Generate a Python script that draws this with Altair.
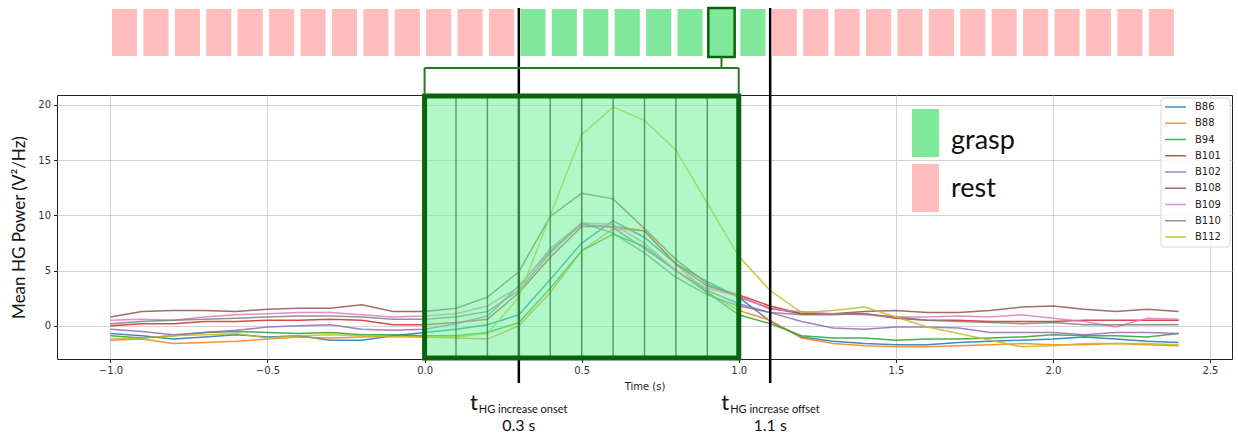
import altair as alt
import pandas as pd

# ---- data -------------------------------------------------------------
times = [-1.0, -0.9, -0.8, -0.7, -0.6, -0.5, -0.4, -0.3, -0.2, -0.1,
         0.0, 0.1, 0.2, 0.3, 0.4, 0.5, 0.6, 0.7, 0.8, 0.9,
         1.0, 1.1, 1.2, 1.3, 1.4, 1.5, 1.6, 1.7, 1.8, 1.9,
         2.0, 2.1, 2.2, 2.3, 2.4]

subjects = ["B86", "B88", "B94", "B101", "B102", "B108", "B109", "B110", "B112"]
subject_colors = ["#1f77b4", "#ff7f0e", "#2ca02c", "#d62728", "#9467bd",
                  "#8c564b", "#e377c2", "#7f7f7f", "#bcbd22"]

b86 = [-0.7, -0.9, -1.2, -1.0, -0.8, -1.0, -0.9, -1.3, -1.3, -0.9,
       -0.6, -0.3, 0.1, 1.0, 4.2, 7.5, 9.5, 8.0, 5.6, 4.0,
       2.6, 0.4, -1.0, -1.4, -1.6, -1.7, -1.7, -1.5, -1.4, -1.3,
       -1.2, -1.0, -1.2, -1.4, -1.5]
b88 = [-1.3, -1.2, -1.6, -1.5, -1.4, -1.2, -1.0, -1.1, -1.0, -0.9,
       -1.0, -1.1, -1.2, 0.0, 3.0, 6.8, 8.8, 8.6, 5.6, 3.0,
       1.4, 0.5, -1.1, -1.6, -1.8, -1.9, -1.9, -1.8, -1.7, -1.6,
       -1.7, -1.7, -1.6, -1.7, -1.8]
b94 = [-0.9, -1.1, -0.9, -0.6, -0.5, -0.6, -0.7, -0.6, -0.8, -0.8,
       -0.9, -0.9, -0.6, 0.3, 3.4, 6.8, 8.3, 7.2, 5.0, 3.0,
       1.0, 0.2, -0.9, -1.1, -1.1, -1.3, -1.2, -1.2, -1.1, -1.0,
       -0.8, -0.9, -0.9, -1.0, -0.7]
b101 = [0.0, 0.2, 0.2, 0.4, 0.4, 0.5, 0.5, 0.6, 0.5, 0.1,
        0.1, 0.3, 0.6, 3.0, 6.2, 9.0, 9.0, 8.6, 5.6, 3.6,
        2.8, 1.8, 1.1, 1.1, 1.1, 0.7, 0.5, 0.5, 0.4, 0.4,
        0.4, 0.5, 0.5, 0.5, 0.5]
b102 = [-0.3, -0.5, -0.8, -0.6, -0.4, -0.1, 0.0, 0.1, -0.3, -0.4,
        -0.3, 0.2, 0.9, 3.6, 6.8, 9.2, 8.9, 7.0, 5.0, 3.2,
        2.0, 1.2, 0.4, -0.2, -0.3, -0.1, -0.1, -0.2, -0.6, -0.6,
        -0.6, -0.8, -0.6, -0.6, -0.7]
b108 = [0.8, 1.3, 1.4, 1.4, 1.3, 1.5, 1.6, 1.6, 1.9, 1.3,
        1.3, 1.6, 2.6, 4.9, 9.9, 12.0, 11.5, 8.8, 6.0, 3.8,
        2.6, 1.6, 1.1, 1.1, 1.3, 1.4, 1.2, 1.2, 1.4, 1.7,
        1.8, 1.5, 1.3, 1.5, 1.3]
b109 = [0.5, 0.6, 0.5, 0.8, 1.0, 1.1, 1.2, 1.2, 1.0, 0.8,
        0.9, 1.1, 1.8, 3.5, 7.0, 9.3, 9.2, 7.5, 5.0, 3.4,
        2.7, 1.5, 1.3, 1.1, 1.0, 0.8, 0.8, 0.9, 0.8, 1.0,
        0.7, 0.4, -0.1, 0.7, 0.6]
b110 = [0.2, 0.4, 0.5, 0.6, 0.7, 0.8, 0.9, 0.9, 0.8, 0.6,
        0.6, 0.8, 1.3, 3.2, 6.6, 9.3, 8.4, 6.6, 4.4, 2.8,
        1.8, 1.2, 1.0, 1.0, 1.1, 0.8, 0.5, 0.4, 0.3, 0.2,
        0.3, 0.1, 0.1, 0.1, 0.1]
b112 = [-1.2, -1.1, -0.9, -0.8, -0.7, -1.1, -0.9, -0.8, -0.9, -1.0,
        -1.0, -1.0, -0.7, 2.6, 10.0, 17.3, 19.8, 18.6, 15.9, 11.1,
        6.3, 3.2, 1.2, 1.4, 1.7, 0.8, -0.1, -0.7, -1.3, -1.9,
        -1.8, -1.6, -1.6, -1.6, -1.7]

series = [b86, b88, b94, b101, b102, b108, b109, b110, b112]

# 0.1 s analysis windows shown in the strip above the axes
window_starts = [-1.0, -0.9, -0.8, -0.7, -0.6, -0.5, -0.4, -0.3, -0.2, -0.1,
                 0.0, 0.1, 0.2, 0.3, 0.4, 0.5, 0.6, 0.7, 0.8, 0.9,
                 1.0, 1.1, 1.2, 1.3, 1.4, 1.5, 1.6, 1.7, 1.8, 1.9,
                 2.0, 2.1, 2.2, 2.3]

onset = 0.3          # t HG increase onset (s)
offset = 1.1         # t HG increase offset (s)
feature_start = 0.0  # 1 s feature window
feature_end = 1.0
highlight_start = 0.9

x_ticks = [-1.0, -0.5, 0.0, 0.5, 1.0, 1.5, 2.0, 2.5]
y_ticks = [0, 5, 10, 15, 20]

# ---- tables -----------------------------------------------------------
lines_df = pd.DataFrame(
    [{"subject": s, "time": t, "power": v}
     for s, vals in zip(subjects, series) for t, v in zip(times, vals)]
)
legend_df = pd.DataFrame({"subject": subjects, "row": list(range(len(subjects)))})
windows_df = pd.DataFrame({
    "start": window_starts,
    "phase": ["grasp" if onset <= round(w, 2) < offset else "rest" for w in window_starts],
})
inner_edges_df = pd.DataFrame({
    "t": [w for w in window_starts if feature_start < w < feature_end]
})
feature_df = pd.DataFrame({"start": [feature_start], "end": [feature_end]})
highlight_df = pd.DataFrame({"start": [highlight_start]})
events_df = pd.DataFrame({
    "t": [onset, offset],
    "sub": ["HG increase onset", "HG increase offset"],
})

W, H = 1175, 264
X_TITLE = "Time (s)"
x_scale = alt.Scale(domain=[-1.17, 2.57], nice=False, zero=False)
y_scale = alt.Scale(domain=[-3.0, 20.9], nice=False, zero=False)
phase_scale = alt.Scale(domain=["grasp", "rest"], range=["#80E89A", "#FFBDBD"])
subject_scale = alt.Scale(domain=subjects, range=subject_colors)

GREEN_DARK = "#0a640f"
GREEN_MID = "#217a24"


def xq(field):
    return alt.X(field, type="quantitative", scale=x_scale, title=X_TITLE)


# ---- layers -----------------------------------------------------------
lines = alt.Chart(lines_df).mark_line(strokeWidth=1.5, opacity=0.85).encode(
    x=alt.X("time:Q", scale=x_scale, title=X_TITLE, axis=alt.Axis(
        values=x_ticks, format=".1f", grid=True,
        gridColor="#c8c8c8", gridWidth=0.8, tickSize=3.5, tickColor="#222",
        labelPadding=3, labelFont="DejaVu Sans", labelFontSize=10,
        labelColor="#333", titleFont="DejaVu Sans", titleFontSize=10,
        titleFontWeight="normal", titleColor="#222", titlePadding=6,
        domain=False)),
    y=alt.Y("power:Q", scale=y_scale, axis=alt.Axis(
        values=y_ticks, format="d", title="Mean HG Power (V²/Hz)", grid=True,
        gridColor="#c8c8c8", gridWidth=0.8, tickSize=3.5, tickColor="#222",
        labelPadding=3, labelFont="DejaVu Sans", labelFontSize=10,
        labelColor="#333", titleFont="Lato", titleFontSize=17,
        titleFontWeight="normal", titleColor="#111", titleX=-38, titleY=H / 2,
        titleBaseline="middle", titleAngle=-90, domain=False)),
    color=alt.Color("subject:N", scale=subject_scale, legend=None),
)

event_rules = alt.Chart(events_df).mark_rule(color="black", strokeWidth=2.5).encode(
    x=xq("t"), y=alt.value(-87), y2=alt.value(288)
)

feature_fill = alt.Chart(feature_df).mark_rect(color="#70F29A", opacity=0.55).encode(
    x=xq("start"), x2="end", y=alt.value(0), y2=alt.value(H)
)

inner_edges = alt.Chart(inner_edges_df).mark_rule(
    color="#2f7a3c", strokeWidth=1.4, opacity=0.75
).encode(x=xq("t"), y=alt.value(0), y2=alt.value(H))

feature_border = alt.Chart(feature_df).mark_rect(
    fillOpacity=0, stroke=GREEN_DARK, strokeWidth=5
).encode(x=xq("start"), x2="end", y=alt.value(1), y2=alt.value(H - 1))

strip = alt.Chart(windows_df).transform_calculate(
    x0="datum.start + 0.005", x1="datum.start + 0.085"
).mark_rect().encode(
    x=xq("x0:Q"), x2="x1:Q", y=alt.value(-86), y2=alt.value(-39),
    fill=alt.Fill("phase:N", scale=phase_scale, legend=None),
)

highlight = alt.Chart(highlight_df).transform_calculate(
    x0="datum.start + 0.003", x1="datum.start + 0.087"
).mark_rect(fill="#80E89A", stroke=GREEN_DARK, strokeWidth=2.5).encode(
    x=xq("x0:Q"), x2="x1:Q", y=alt.value(-87), y2=alt.value(-38)
)

stem = alt.Chart(highlight_df).transform_calculate(
    xc="datum.start + 0.045"
).mark_rule(color=GREEN_MID, strokeWidth=2).encode(
    x=xq("xc:Q"), y=alt.value(-38), y2=alt.value(-27)
)
bracket_h = alt.Chart(feature_df).mark_rule(color=GREEN_MID, strokeWidth=2).encode(
    x=xq("start"), x2="end", y=alt.value(-27)
)
bracket_l = alt.Chart(feature_df).mark_rule(color=GREEN_MID, strokeWidth=2).encode(
    x=xq("start"), y=alt.value(-27), y2=alt.value(0)
)
bracket_r = alt.Chart(feature_df).mark_rule(color=GREEN_MID, strokeWidth=2).encode(
    x=xq("end"), y=alt.value(-27), y2=alt.value(0)
)

# subject legend (upper right, inside the axes)
legend_box = alt.Chart(feature_df).mark_rect(
    fill="white", stroke="#d4d4d4", strokeWidth=1, cornerRadius=3, opacity=0.9
).encode(x=alt.value(1104), x2=alt.value(1173), y=alt.value(3), y2=alt.value(152))
legend_rows = alt.Chart(legend_df).transform_calculate(
    ry="12 + 16.25 * datum.row"
)
legend_lines = legend_rows.mark_rule(strokeWidth=1.5, opacity=0.85).encode(
    x=alt.value(1108), x2=alt.value(1129),
    y=alt.Y("ry:Q", scale=None),
    color=alt.Color("subject:N", scale=subject_scale, legend=None),
)
legend_labels = legend_rows.mark_text(
    font="DejaVu Sans", fontSize=10, color="#222", align="left", baseline="middle"
).encode(x=alt.value(1138), y=alt.Y("ry:Q", scale=None), text="subject:N")

# phase key inside the axes
key_layers = []
for i, ph in enumerate(["grasp", "rest"]):
    d = pd.DataFrame({"phase": [ph]})
    key_layers.append(
        alt.Chart(d).mark_rect().encode(
            x=alt.value(855), x2=alt.value(882),
            y=alt.value(14 + 55 * i), y2=alt.value(62 + 55 * i),
            fill=alt.Fill("phase:N", scale=phase_scale, legend=None),
        )
    )
    key_layers.append(
        alt.Chart(d).mark_text(
            font="Lato", fontSize=27, color="#111", align="left",
            baseline="alphabetic"
        ).encode(x=alt.value(894), y=alt.value(54 + 48 * i), text="phase:N")
    )

# event labels under the axis
t_main = alt.Chart(events_df).mark_text(
    text="t", font="Lato", fontSize=22, color="#111", align="right",
    baseline="alphabetic", dx=-41
).encode(x=xq("t"), y=alt.value(315))
t_sub = alt.Chart(events_df).mark_text(
    font="Lato", fontSize=11, color="#111", align="left",
    baseline="alphabetic", dx=-40
).encode(x=xq("t"), y=alt.value(318), text="sub:N")
t_val = alt.Chart(events_df).transform_calculate(
    label="format(datum.t, '.1f') + ' s'"
).mark_text(
    font="Lato", fontSize=16, color="#111", align="center", baseline="alphabetic"
).encode(x=xq("t"), y=alt.value(336), text="label:N")

chart = alt.layer(
    lines, event_rules, feature_fill, inner_edges, feature_border,
    strip, highlight, stem, bracket_h, bracket_l, bracket_r,
    legend_box, legend_lines, legend_labels,
    *key_layers, t_main, t_sub, t_val,
).properties(
    width=W, height=H,
    autosize=alt.AutoSizeParams(type="none"),
    padding={"left": 57, "top": 95, "right": 6, "bottom": 75},
    background="white",
).configure_view(stroke="#222", strokeWidth=1)

chart.save("out.html", embed_options={"renderer": "svg", "actions": False})
